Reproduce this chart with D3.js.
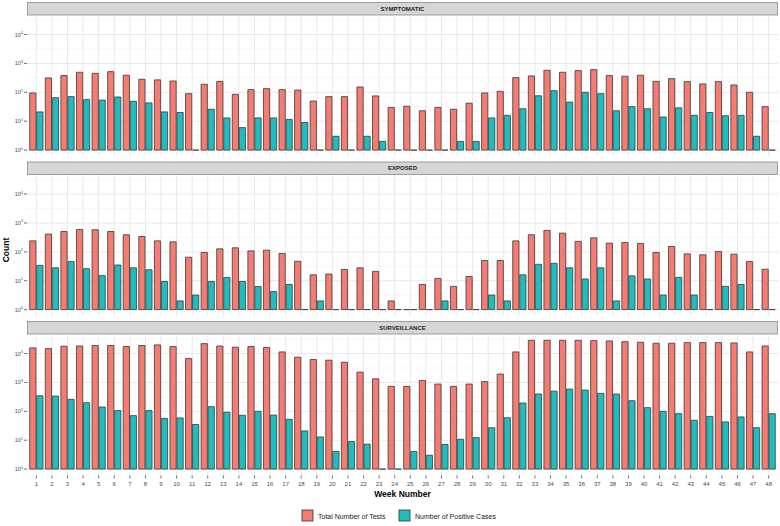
<!DOCTYPE html>
<html>
<head>
<meta charset="utf-8">
<script src="https://cdn.jsdelivr.net/npm/d3@7"></script>
<style>
  html, body { margin: 0; padding: 0; background: #fff; }
  svg { display: block; font-family: "Liberation Sans", Arial, sans-serif; }
</style>
</head>
<body>
<svg id="chart" width="780" height="526"></svg>
<script>
// ---------- DATA ----------
const weeks = d3.range(1, 49);
const panels = ["SYMPTOMATIC", "EXPOSED", "SURVEILLANCE"];
const seriesNames = ["Total Number of Tests", "Number of Positive Cases"];
const yTickExps = [0, 1, 2, 3, 4];

// value 1 => drawn as flat bar at baseline
const symptomaticTests = [95,315,380,495,455,520,390,283,270,247,90,190,240,85,124,134,124,120,50,71,71,153,75,30,
  33,23,30,26,42,95,108,323,370,580,495,565,610,380,360,390,240,298,235,195,235,180,100,32];
const symptomaticPos = [21,65,71,56,54,69,49,43,21,20,1,26,13,6,13,13,11.5,9,1,3,1,3,2,1,
  1,1,1,2,2,13,16,27,76,114,46,100,90,23,32,27,14,29,16,20,15.5,16,3,1];
const exposedTests = [240,410,505,595,580,505,390,340,240,222,65,95,127,138,108,114,88,47,16,17,24.5,28,21,2,
  1,7.4,12,6.4,14,50,50,240,390,550,445,230,305,200,210,195,95,153,85,79,102,83,46,25];
const exposedPos = [34,28,46,26,15,35,28,24,9.4,2,3.2,9.4,13,9.4,6.3,4.2,7.4,1,2,1,1,1,1,1,
  1,1,2,1,1,3.2,2,16,37,40,28,11.5,28,2,14.7,11.5,3.2,13,3.2,1,6.4,7.4,1,1];
const surveillanceTests = [15700,14800,17900,18300,19000,19000,17500,19000,19900,17500,6700,22100,18300,16600,17500,16200,11400,7500,6200,5900,5000,2280,1340,730,
  730,1170,880,730,880,1070,1950,11400,28800,28800,28800,28800,28000,27400,25800,24600,22700,22700,24000,24000,24000,23300,11400,18300];
const surveillancePos = [347,338,260,199,141,106,71,106,57,59,35,145,93,73,100,74,53,21,13,4.1,9,7.3,1,1,
  4.1,3,7.1,10.8,12.3,27,60,194,398,500,590,545,420,398,233,134,100,83,49,67,43,64,27,83];

const testsByPanel = [symptomaticTests, exposedTests, surveillanceTests];
const posByPanel = [symptomaticPos, exposedPos, surveillancePos];
const colors = ["#F57C73", "#21BDBE"];

// ---------- LAYOUT ----------
const svg = d3.select("#chart");
const left = 27, right = 778;
const stripH = 13.5, plotH = 141, gap = 5, top0 = 2;

// discrete x positions (ggplot-like 0.6 unit expansion each side)
const x = d3.scalePoint().domain(weeks).range([left, right]).padding(0.6);
const unit = x.step();
const xc = w => x(w);

const yDomain = [-0.222, 4.66];

panels.forEach((name, pi) => {
  const sTop = top0 + pi * (stripH + plotH + gap);
  const pTop = sTop + stripH;
  const pBot = pTop + plotH;
  const y = d3.scaleLinear().domain(yDomain).range([pBot, pTop]);
  const g = svg.append("g");

  // strip
  g.append("rect").attr("x", left + 0.5).attr("y", sTop + 0.5)
    .attr("width", right - left - 1).attr("height", stripH - 1)
    .attr("fill", "#D6D6D6").attr("stroke", "#8a8a8a").attr("stroke-width", 0.8);
  g.append("text").attr("x", (left + right) / 2).attr("y", sTop + stripH / 2 + 2.2)
    .attr("text-anchor", "middle").attr("font-size", 6).attr("font-weight", "bold")
    .attr("fill", "#222").text(name);

  // minor horizontal grid
  const minor = d3.range(0, 4.5, 1).map(v => v + 0.5);
  g.selectAll(".ymin").data(minor).join("line")
    .attr("x1", left).attr("x2", right).attr("y1", d => y(d)).attr("y2", d => y(d))
    .attr("stroke", "#F2F2F2").attr("stroke-width", 0.6);
  // major horizontal grid
  g.selectAll(".ymaj").data(yTickExps).join("line")
    .attr("x1", left).attr("x2", right).attr("y1", d => y(d)).attr("y2", d => y(d))
    .attr("stroke", "#E6E6E6").attr("stroke-width", 0.9);
  // vertical grid
  g.selectAll(".xg").data(weeks).join("line")
    .attr("x1", d => xc(d)).attr("x2", d => xc(d)).attr("y1", pTop).attr("y2", pBot)
    .attr("stroke", "#E6E6E6").attr("stroke-width", 0.9);

  // y axis ticks + labels
  g.selectAll(".yt").data(yTickExps).join("line")
    .attr("x1", left - 3).attr("x2", left).attr("y1", d => y(d)).attr("y2", d => y(d))
    .attr("stroke", "#333").attr("stroke-width", 0.7);
  const yl = g.selectAll(".yl").data(yTickExps).join("text")
    .attr("x", left - 4).attr("y", d => y(d) + 2)
    .attr("text-anchor", "end").attr("font-size", 5.5).attr("fill", "#4D4D4D");
  yl.append("tspan").text("10");
  yl.append("tspan").attr("dy", -2.5).attr("font-size", 4).text(d => d);

  // bars (drawn as paths so zero-height bars appear as flat dashes)
  const bw = unit * 0.4;
  const tests = testsByPanel[pi], pos = posByPanel[pi];
  [tests, pos].forEach((vals, si) => {
    g.selectAll(".b" + si).data(weeks).join("path")
      .attr("d", d => {
        const x0 = xc(d) + (si === 0 ? -0.225 : 0.225) * unit - bw / 2;
        const yTop = y(Math.log10(vals[d - 1]));
        const yb = y(0);
        return `M${x0},${yb}V${yTop}H${x0 + bw}V${yb}Z`;
      })
      .attr("fill", colors[si])
      .attr("stroke", "#3a3a3a").attr("stroke-width", 0.8);
  });

  if (pi === panels.length - 1) {
    // x axis ticks and labels
    g.selectAll(".xt").data(weeks).join("line")
      .attr("x1", d => xc(d)).attr("x2", d => xc(d)).attr("y1", pBot).attr("y2", pBot + 3)
      .attr("stroke", "#333").attr("stroke-width", 0.7);
    g.selectAll(".xl").data(weeks).join("text")
      .attr("x", d => xc(d)).attr("y", pBot + 10)
      .attr("text-anchor", "middle").attr("font-size", 6).attr("fill", "#4D4D4D")
      .text(d => d);
  }
});

// axis titles
svg.append("text").attr("x", (left + right) / 2).attr("y", 497)
  .attr("text-anchor", "middle").attr("font-size", 8.5).attr("font-weight", "bold")
  .attr("fill", "#000").text("Week Number");
svg.append("text").attr("transform", "translate(9,250) rotate(-90)")
  .attr("text-anchor", "middle").attr("font-size", 8.5).attr("font-weight", "bold")
  .attr("fill", "#000").text("Count");

// legend
const legend = svg.append("g");
const legItems = [{x: 302, label: seriesNames[0], c: colors[0]}, {x: 399, label: seriesNames[1], c: colors[1]}];
legItems.forEach(it => {
  legend.append("rect").attr("x", it.x).attr("y", 510).attr("width", 11).attr("height", 11)
    .attr("fill", it.c).attr("stroke", "#333").attr("stroke-width", 0.8);
  legend.append("text").attr("x", it.x + 16).attr("y", 518.5).attr("font-size", 7)
    .attr("fill", "#222").text(it.label);
});
</script>
</body>
</html>
